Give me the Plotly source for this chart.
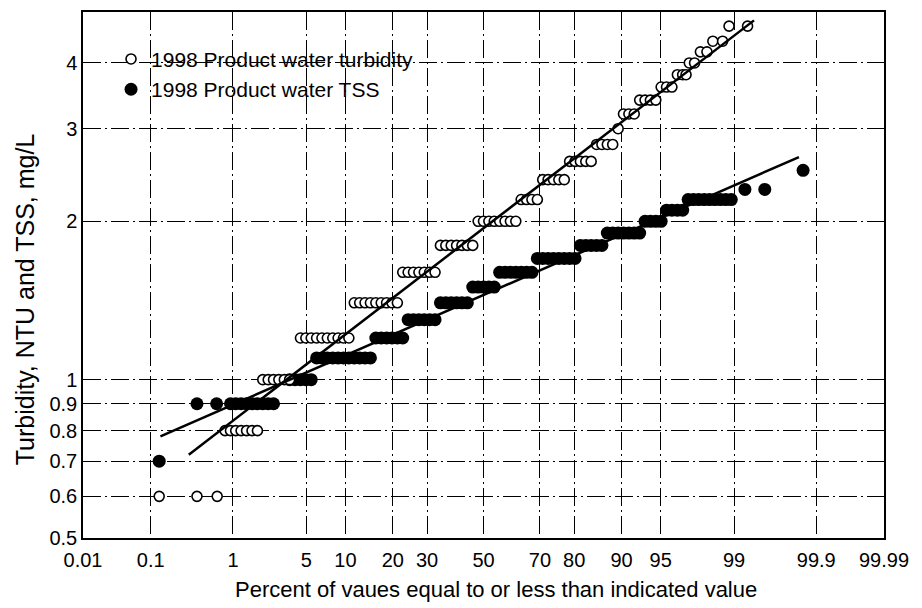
from statistics import NormalDist
import plotly.graph_objects as go

# 1998 product water turbidity (open circles): value level and the percentiles plotted at it
turb_levels = [0.6, 0.8, 1.0, 1.2, 1.4, 1.6, 1.8, 2.0, 2.2, 2.4, 2.6, 2.8,
               3.0, 3.2, 3.4, 3.6, 3.8, 4.0, 4.2, 4.4, 4.7]
turb_pcts = [
    [0.13, 0.39, 0.67],
    [0.82, 0.94, 1.07, 1.22, 1.39, 1.58, 1.79],
    [2.02, 2.28, 2.56, 2.87, 3.22, 3.59],
    [4.46, 4.95, 5.48, 6.06, 6.68, 7.35, 8.08, 8.85, 9.68, 10.56],
    [11.51, 12.51, 13.57, 14.69, 15.87, 17.11, 18.41, 19.77, 21.19],
    [22.66, 24.20, 25.78, 27.43, 29.12, 30.85, 32.64],
    [34.46, 36.32, 38.21, 40.13, 42.07, 44.04, 46.02],
    [48.01, 50.00, 51.99, 53.98, 55.96, 57.93, 59.87, 61.79],
    [63.68, 65.54, 67.36, 69.15],
    [70.88, 72.57, 74.22, 75.80, 77.34],
    [78.81, 80.23, 81.59, 82.89, 84.13],
    [85.31, 86.43, 87.49, 88.49],
    [89.44],
    [90.32, 91.15, 91.92],
    [92.65, 93.32, 93.94, 94.52],
    [95.05, 95.54, 95.99],
    [96.41, 96.78, 97.0],
    [97.2, 97.5],
    [97.8, 98.1],
    [98.34, 98.68],
    [98.87, 99.29],
]

# 1998 product water TSS (filled circles)
tss_levels = [0.7, 0.9, 1.0, 1.1, 1.2, 1.3, 1.4, 1.5, 1.6, 1.7, 1.8, 1.9,
              2.0, 2.1, 2.2, 2.3, 2.5]
tss_pcts = [
    [0.13],
    [0.39, 0.66, 0.94, 1.07, 1.22, 1.39, 1.58, 1.79, 2.02, 2.28, 2.56],
    [3.59, 4.01, 4.46, 4.95, 5.48],
    [6.06, 6.68, 7.35, 8.08, 8.85, 9.68, 10.56, 11.51, 12.51, 13.57, 14.69],
    [15.87, 17.11, 18.41, 19.77, 21.19, 22.66],
    [24.20, 25.78, 27.43, 29.12, 30.85, 32.64],
    [34.46, 36.32, 38.21, 40.13, 42.07, 44.04],
    [46.02, 48.01, 50.00, 51.99, 53.98],
    [55.96, 57.93, 59.87, 61.79, 63.68, 65.54, 67.36],
    [69.15, 70.88, 72.57, 74.22, 75.80, 77.34, 78.81, 80.23],
    [81.59, 82.89, 84.13, 85.31, 86.43],
    [87.49, 88.49, 89.44, 90.32, 91.15, 91.92, 92.65],
    [93.32, 93.94, 94.52, 95.05],
    [95.54, 95.99, 96.41, 96.78],
    [97.13, 97.44, 97.72, 97.98, 98.21, 98.42, 98.61, 98.78, 98.93],
    [99.24, 99.55],
    [99.85],
]

# fitted lines (end points)
turb_fit_pct = [0.31, 99.40]
turb_fit_val = [0.72, 4.82]
tss_fit_pct = [0.135, 99.83]
tss_fit_val = [0.78, 2.65]

x_ticks = [0.01, 0.1, 1, 5, 10, 20, 30, 50, 70, 80, 90, 95, 99, 99.9, 99.99]
x_tick_text = ["0.01", "0.1", "1", "5", "10", "20", "30", "50", "70", "80",
               "90", "95", "99", "99.9", "99.99"]
y_ticks = [0.5, 0.6, 0.7, 0.8, 0.9, 1, 2, 3, 4]

nd = NormalDist()


def prob(p):
    # normal probability scale
    return [nd.inv_cdf(v / 100.0) for v in p]


def flatten(levels, pcts):
    xs, ys = [], []
    for lv, ps in zip(levels, pcts):
        xs += ps
        ys += [lv] * len(ps)
    return xs, ys


tx, ty = flatten(turb_levels, turb_pcts)
sx, sy = flatten(tss_levels, tss_pcts)

font = "Liberation Sans, Arial, sans-serif"
fig = go.Figure()
fig.add_trace(go.Scatter(x=prob(sx), y=sy, mode="markers",
                         name="1998 Product water TSS",
                         marker=dict(symbol="circle", size=13, color="black")))
fig.add_trace(go.Scatter(x=prob(tx), y=ty, mode="markers",
                         name="1998 Product water turbidity",
                         marker=dict(symbol="circle", size=10, color="white",
                                     line=dict(color="black", width=1.6))))
fig.add_trace(go.Scatter(x=prob(turb_fit_pct), y=turb_fit_val, mode="lines",
                         showlegend=False, line=dict(color="black", width=2.5)))
fig.add_trace(go.Scatter(x=prob(tss_fit_pct), y=tss_fit_val, mode="lines",
                         showlegend=False, line=dict(color="black", width=2.5)))

grid = dict(showgrid=True, gridcolor="black", gridwidth=1,
            griddash="18px,4px,2px,4px")

fig.update_layout(
    width=922, height=608,
    margin=dict(l=83, r=38, t=10, b=70),
    paper_bgcolor="white", plot_bgcolor="white",
    font=dict(family=font, size=20, color="black"),
    legend=dict(x=0.035, y=0.949, xanchor="left", yanchor="top",
                traceorder="reversed", bgcolor="rgba(0,0,0,0)",
                font=dict(size=21)),
    xaxis=dict(range=prob([0.01, 99.99]), tickvals=prob(x_ticks),
               ticktext=x_tick_text, ticks="", zeroline=False,
               showline=True, mirror=True, linecolor="black", linewidth=1.5,
               ticklabelstandoff=3, **grid),
    yaxis=dict(type="log", range=[-0.30103, 0.69897], tickvals=y_ticks,
               ticktext=[str(v) for v in y_ticks], ticks="", zeroline=False,
               showline=True, mirror=True, linecolor="black", linewidth=1.5,
               **grid),
    annotations=[
        dict(text="Percent of vaues equal to or less than indicated value",
             xref="paper", yref="paper", x=0.516, y=-0.098,
             xanchor="center", yanchor="middle", showarrow=False,
             font=dict(size=22)),
        dict(text="Turbidity, NTU and TSS, mg/L", textangle=-90,
             xref="paper", yref="paper", x=-0.073, y=0.453,
             xanchor="center", yanchor="middle", showarrow=False,
             font=dict(size=25)),
    ],
)

fig.write_html("out.html", config={"displayModeBar": False},
               post_script="document.body.style.margin='0';")
